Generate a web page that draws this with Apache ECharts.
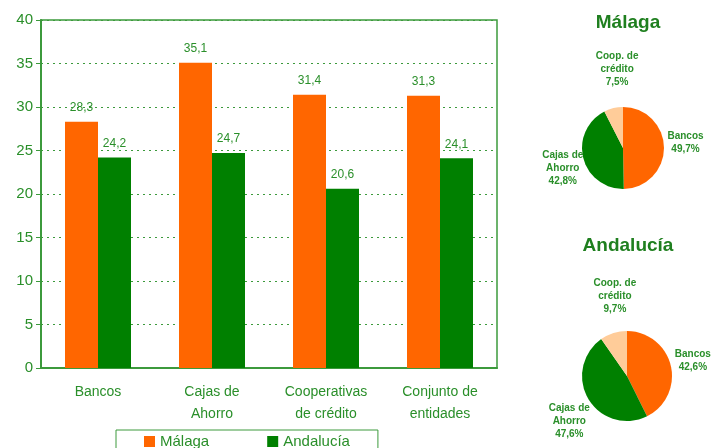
<!DOCTYPE html>
<html><head><meta charset="utf-8">
<script src="https://cdn.jsdelivr.net/npm/echarts@6/dist/echarts.min.js"></script>
<style>html,body{margin:0;padding:0;background:#fff}#c{width:714px;height:448px}</style>
</head><body><div id="c"></div>
<script>
const categories = ['Bancos', 'Cajas de\nAhorro', 'Cooperativas\nde crédito', 'Conjunto de\nentidades'];
const malaga = [28.3, 35.1, 31.4, 31.3];
const andalucia = [24.2, 24.7, 20.6, 24.1];
const pieNames = ['Bancos', 'Cajas de\nAhorro', 'Coop. de\ncrédito'];
const pieMalaga = [49.7, 42.8, 7.5];
const pieAndalucia = [42.6, 47.6, 9.7];
const yTicks = [0, 5, 10, 15, 20, 25, 30, 35, 40];

const GREEN_TXT = '#2a8f2a';
const AXIS = '#3c9a3c';
const ORANGE = '#ff6600';
const GREEN = '#008000';
const LIGHT = '#ffcc99';
const FONT = 'Liberation Sans, Arial, sans-serif';
const fmt = v => String(v.toFixed(1)).replace('.', ',');

function pieSeries(vals, center, radius, offs) {
  return {
    type: 'pie', center: center, radius: radius, startAngle: 90, clockwise: true,
    silent: true, animation: false,
    data: pieNames.map((n, i) => ({ name: n, value: vals[i], itemStyle: { color: [ORANGE, GREEN, LIGHT][i] } })),
    label: {
      show: true, position: 'outside', overflow: 'none', alignTo: 'none',
      formatter: p => (p.name + '\n' + fmt(p.value) + '%').split('\n').map(s => '{c|' + s + '}').join('\n'),
      rich: { c: { align: 'center', color: GREEN_TXT, fontFamily: FONT, fontSize: 10, fontWeight: 'bold', lineHeight: 13 } }
    },
    labelLine: { show: false, length: 4, length2: 0 },
    labelLayout: p => ({ dx: offs[p.dataIndex][0], dy: offs[p.dataIndex][1] })
  };
}

const chart = echarts.init(document.getElementById('c'), null, { renderer: 'canvas' });
chart.setOption({
  animation: false,
  textStyle: { fontFamily: FONT },
  title: [
    { text: 'Málaga', left: 623, top: 8, textAlign: 'center', textStyle: { color: '#1f7f1f', fontSize: 19, fontWeight: 'bold', fontFamily: FONT } },
    { text: 'Andalucía', left: 623, top: 231, textAlign: 'center', textStyle: { color: '#1f7f1f', fontSize: 19, fontWeight: 'bold', fontFamily: FONT } }
  ],
  legend: {
    data: ['Málaga', 'Andalucía'], left: 116, top: 430, itemWidth: 11, itemHeight: 11, itemGap: 58,
    borderColor: AXIS, borderWidth: 1, padding: [4, 28, 12, 28], icon: 'rect',
    textStyle: { color: GREEN_TXT, fontSize: 15, fontFamily: FONT }
  },
  grid: { left: 41, right: 217, top: 20, bottom: 80, show: true, borderColor: AXIS, borderWidth: 1.5, backgroundColor: 'transparent' },
  xAxis: {
    type: 'category', data: categories,
    axisLine: { lineStyle: { color: AXIS, width: 2 } },
    axisTick: { show: false },
    axisLabel: { color: GREEN_TXT, fontSize: 14, lineHeight: 22, margin: 13, interval: 0 }
  },
  yAxis: {
    type: 'value', min: 0, max: 40, interval: 5,
    axisLine: { show: true, lineStyle: { color: AXIS, width: 2 } },
    axisTick: { show: true, length: 5, lineStyle: { color: AXIS } },
    axisLabel: { color: GREEN_TXT, fontSize: 15, margin: 8, formatter: v => yTicks.includes(v) ? String(v) : '' },
    splitLine: { show: true, lineStyle: { color: AXIS, type: [2, 4], width: 1 } }
  },
  series: [
    { name: 'Málaga', type: 'bar', data: malaga, barWidth: 33, barGap: '0%', itemStyle: { color: ORANGE },
      label: { show: true, position: 'top', distance: 8, color: GREEN_TXT, fontSize: 12, formatter: p => fmt(p.value) } },
    { name: 'Andalucía', type: 'bar', data: andalucia, barWidth: 33, itemStyle: { color: GREEN },
      label: { show: true, position: 'top', distance: 8, color: GREEN_TXT, fontSize: 12, formatter: p => fmt(p.value) } },
    pieSeries(pieMalaga, [623, 148], 41, [[-3, -5], [9, 9], [31, -35]]),
    pieSeries(pieAndalucia, [627, 376], 45, [[1, -4], [10, 20], [29, -33]])
  ]
});
</script></body></html>
